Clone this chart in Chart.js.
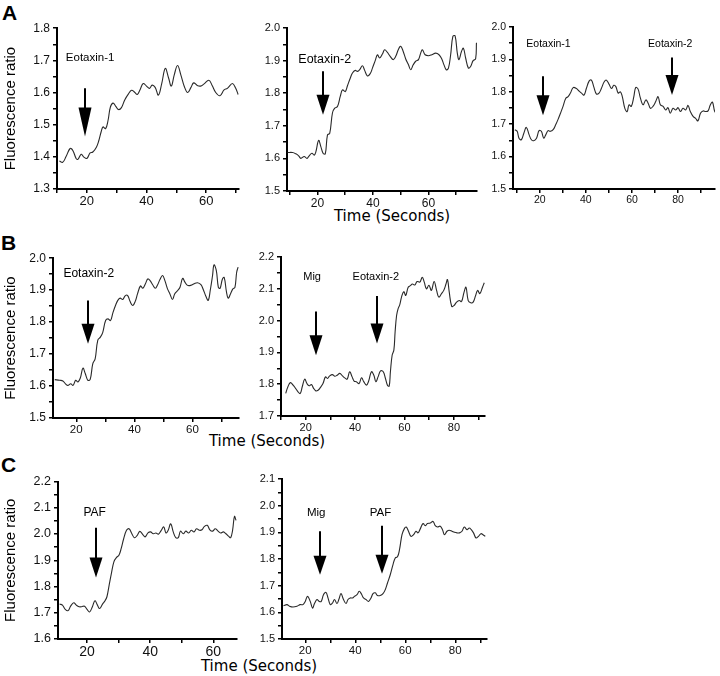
<!DOCTYPE html>
<html><head><meta charset="utf-8">
<script src="https://cdn.jsdelivr.net/npm/chart.js@4.4.1/dist/chart.umd.min.js"></script>
<style>
html,body{margin:0;padding:0;background:#fff;}
body{width:720px;height:676px;position:relative;overflow:hidden;font-family:"Liberation Sans",Arial,sans-serif;}
canvas{position:absolute;}
.lbl{position:absolute;color:#000;white-space:nowrap;line-height:1;}
.letter{font-weight:bold;font-size:21px;}
.time{font-family:"DejaVu Sans",sans-serif;font-size:15px;transform:translate(-50%,-50%);}
</style></head><body>
<div class="lbl letter" style="left:2px;top:2px">A</div>
<div class="lbl letter" style="left:1px;top:232px">B</div>
<div class="lbl letter" style="left:1px;top:454px">C</div>
<div class="lbl time" style="left:392px;top:216px">Time (Seconds)</div>
<div class="lbl time" style="left:267px;top:441px">Time (Seconds)</div>
<div class="lbl time" style="left:259px;top:666px">Time (Seconds)</div>
<canvas id="cA1"></canvas><canvas id="cA2"></canvas><canvas id="cA3"></canvas>
<canvas id="cB1"></canvas><canvas id="cB2"></canvas>
<canvas id="cC1"></canvas><canvas id="cC2"></canvas>
<script>
// ---------------- DATA ----------------
const yAxisTitle = 'Fluorescence ratio';

// A1: Eotaxin-1
const a1Time = [10.8,11.9,13,14.4,15.3,16.4,17,18.1,18.9,20,
  21.1,22,23.2,24,24.8,25.4,26.3,27.1,27.9,28.8,
  29.7,30.6,31.6,32.7,33.9,35,36.1,36.9,37.8,38.9,
  40,41,41.9,42.9,44,45.1,46.3,47.4,48.3,49.3,
  50.4,51.5,52.7,53.8,54.9,55.8,57,58.1,59.2,60.9,
  62,63.2,64.6,66,67.1,68.8,69.9,70.7];
const a1Ratio = [1.387,1.383,1.40,1.426,1.42,1.395,1.392,1.408,1.40,1.395,
  1.412,1.415,1.43,1.45,1.478,1.493,1.488,1.513,1.555,1.567,
  1.557,1.547,1.553,1.577,1.595,1.607,1.60,1.594,1.608,1.628,
  1.62,1.613,1.623,1.616,1.592,1.628,1.675,1.645,1.62,1.655,
  1.684,1.655,1.618,1.60,1.616,1.63,1.622,1.62,1.626,1.638,
  1.622,1.60,1.59,1.608,1.613,1.628,1.613,1.594];
const a1Arrows = [{x:19.55, from:1.613, to:1.463}];
const a1Labels = [{text:'Eotaxin-1', x:21.1, y:1.707}];

// A2: Eotaxin-2
const a2Time = [9.2,11,12.2,13.2,14,15.2,16.2,17,18,18.8,
  19.4,20.4,21.2,22,22.8,23.6,24.4,25.4,26.2,27.2,
  28.2,29,30,30.8,31.8,32.6,33.6,34.4,35.2,36.2,
  37,38,39,39.8,40.8,41.6,42.4,43.4,44.2,45.2,
  46.2,47.3,48.2,49.2,50,50.9,51.8,52.8,53.6,54.5,
  55.4,56.4,57.2,57.8,58.8,60,61.2,62.6,63.8,64.8,
  65.6,66.4,67.2,68,68.8,69.6,70.4,71,71.9,72.6,
  73.4,74.4,75.2,76.1,77,77.3];
const a2Ratio = [1.618,1.618,1.614,1.608,1.60,1.606,1.60,1.608,1.616,1.61,
  1.62,1.655,1.636,1.616,1.614,1.672,1.677,1.74,1.754,1.759,
  1.79,1.81,1.805,1.823,1.846,1.862,1.87,1.867,1.872,1.884,
  1.87,1.853,1.86,1.877,1.90,1.918,1.908,1.92,1.933,1.925,
  1.913,1.903,1.913,1.935,1.944,1.928,1.905,1.887,1.872,1.887,
  1.898,1.903,1.923,1.933,1.918,1.915,1.918,1.923,1.918,1.905,
  1.887,1.872,1.877,1.918,1.974,1.976,1.923,1.903,1.928,1.938,
  1.908,1.877,1.882,1.90,1.905,1.955];
const a2Arrows = [{x:21.8, from:1.867, to:1.734}];
const a2Labels = [{text:'Eotaxin-2', x:22.6, y:1.903}];

// A3: Eotaxin-1 then Eotaxin-2
const a3Time = [9.2,10.2,11,12,13.1,14.2,15.4,16.4,17.4,18.6,
  19.7,20.7,21.7,22.6,23.6,24.6,25.8,26.9,27.9,29,
  30.1,31.3,32.3,33.3,34.5,35.9,37.1,38.1,39.2,40.2,
  41.4,42.4,43.4,44.6,45.7,46.7,47.9,48.9,50.1,51.1,
  52.1,53,54,55,55.8,56.9,57.9,58.7,59.7,60.8,
  61.6,62.6,63.6,64.8,66,67,68,69.1,70.3,71.3,
  72.3,73.5,74.6,75.6,76.6,77.8,79,80,81,82.1,
  83.3,84.3,85.3,86.5,87.6,88.6,89.7,90.8,92,93,
  94,94.9,95.9,96.9];
const a3Ratio = [1.683,1.678,1.657,1.652,1.672,1.69,1.667,1.652,1.649,1.657,
  1.68,1.678,1.657,1.667,1.68,1.678,1.683,1.698,1.714,1.734,
  1.755,1.78,1.785,1.796,1.813,1.81,1.802,1.796,1.79,1.81,
  1.833,1.836,1.816,1.793,1.796,1.81,1.83,1.836,1.823,1.81,
  1.82,1.816,1.796,1.80,1.785,1.749,1.739,1.76,1.755,1.785,
  1.813,1.809,1.782,1.76,1.775,1.765,1.749,1.755,1.77,1.785,
  1.76,1.755,1.744,1.751,1.734,1.749,1.744,1.751,1.739,1.749,
  1.744,1.758,1.739,1.724,1.718,1.71,1.734,1.741,1.739,1.741,
  1.76,1.768,1.739,1.734];
const a3Arrows = [{x:21.4, from:1.848, to:1.728}, {x:77.5, from:1.906, to:1.79}];
const a3Labels = [{text:'Eotaxin-1', x:23.8, y:1.946}, {text:'Eotaxin-2', x:76.6, y:1.946}];

// B1: Eotaxin-2
const b1Time = [12.6,14.3,15.4,16.3,17.1,18.1,18.9,19.8,20.6,21.4,
  22.3,23.1,24,24.8,25.7,26.5,27.4,28.3,29.1,30.1,
  30.9,31.8,32.6,33.5,34.3,35.1,36,36.9,37.7,38.5,
  39.4,40.3,41.1,42.1,42.9,43.8,44.6,45.4,46.3,47.2,
  48,48.8,49.7,50.5,51.4,52.2,53.1,53.9,54.9,55.7,
  56.6,57.4,58.3,59.4,60.6,61.7,62.9,63.7,64.6,65.4,
  66.1,66.9,67.4,68.2,68.9,69.5,70.3,70.9,71.7,72.3,
  73.1,73.9,74.6,75.2,75.7];
const b1Ratio = [1.62,1.618,1.616,1.607,1.602,1.607,1.602,1.618,1.613,1.625,
  1.656,1.639,1.618,1.621,1.67,1.685,1.743,1.753,1.767,1.805,
  1.81,1.805,1.829,1.852,1.868,1.875,1.871,1.883,1.883,1.865,
  1.852,1.865,1.889,1.913,1.906,1.92,1.935,1.93,1.917,1.906,
  1.917,1.933,1.946,1.93,1.904,1.889,1.871,1.889,1.899,1.909,
  1.937,1.925,1.915,1.915,1.92,1.923,1.917,1.902,1.881,1.868,
  1.899,1.946,1.979,1.961,1.909,1.906,1.935,1.94,1.894,1.875,
  1.889,1.904,1.909,1.956,1.972];
const b1Arrows = [{x:24.2, from:1.868, to:1.732}];
const b1Labels = [{text:'Eotaxin-2', x:24.3, y:1.951}];

// B2: Mig then Eotaxin-2
const b2Time = [11.9,12.8,13.8,14.9,15.9,16.9,17.8,18.6,19.6,20.5,
  21.4,22.3,23.2,24.1,25,25.9,27,28,28.8,29.7,
  30.8,31.8,32.7,33.8,34.9,35.8,36.8,37.8,38.8,39.6,
  40.5,41.6,42.6,43.5,44.6,45.5,46.6,47.6,48.4,49.3,
  50.3,51.4,52.3,53.1,53.8,54.3,55,55.7,56.2,56.8,
  57.4,58.1,58.8,59.7,60.5,61.5,62.4,63.2,64.2,65.1,
  66.2,67.2,68,68.9,69.9,70.9,72,73,73.9,75,
  75.9,76.8,77.4,78.1,79.1,80,81.1,82.2,83.1,84.1,
  84.9,85.8,86.8,87.8,88.8,89.6,90.5,91.6,92.3];
const b2Ratio = [1.771,1.792,1.805,1.797,1.787,1.776,1.771,1.792,1.816,1.802,
  1.795,1.799,1.787,1.779,1.781,1.789,1.802,1.823,1.818,1.826,
  1.83,1.825,1.828,1.834,1.826,1.82,1.816,1.839,1.823,1.81,
  1.808,1.802,1.82,1.808,1.797,1.81,1.839,1.828,1.808,1.823,
  1.842,1.839,1.818,1.797,1.794,1.839,1.891,1.907,1.964,2.016,
  2.037,2.05,2.074,2.091,2.079,2.105,2.11,2.115,2.112,2.123,
  2.121,2.136,2.121,2.10,2.111,2.095,2.123,2.095,2.074,2.085,
  2.095,2.115,2.129,2.091,2.045,2.047,2.058,2.063,2.06,2.089,
  2.105,2.063,2.056,2.058,2.079,2.095,2.085,2.105,2.119];
const b2Arrows = [{x:24.3, from:2.029, to:1.891}, {x:48.9, from:2.077, to:1.928}];
const b2Labels = [{text:'Mig', x:22.6, y:2.138}, {text:'Eotaxin-2', x:48.4, y:2.138}];

// C1: PAF
const c1Time = [11.3,12.2,13.1,14,14.8,15.8,16.6,17.5,18.3,19.2,
  20,20.8,21.7,22.5,23.3,24,24.9,25.7,26.3,27,
  27.7,28.5,29.3,30.1,30.8,31.6,32.5,33.3,34.2,35,
  35.9,36.7,37.6,38.4,39.3,40.1,41,41.8,42.6,43.5,
  44.3,45,45.7,46.5,47.3,48.1,48.9,49.6,50.5,51.3,
  52.2,53,53.9,54.7,55.6,56.4,57.2,58.1,58.9,59.8,
  60.6,61.5,62.3,63.2,64,64.9,65.5,66.1,66.7,67.2];
const c1Ratio = [1.733,1.729,1.713,1.708,1.725,1.738,1.729,1.723,1.723,1.725,
  1.713,1.703,1.723,1.746,1.729,1.716,1.733,1.746,1.761,1.805,
  1.849,1.894,1.91,1.919,1.944,1.982,2.014,2.02,2.001,1.986,
  1.995,2.01,1.999,1.989,2.004,2.008,2.001,2.004,1.999,2.014,
  2.027,2.004,2.014,2.039,2.008,1.986,1.986,2.011,2.001,2.011,
  2.004,2.014,2.008,2.02,2.014,2.016,2.029,2.033,2.016,2.011,
  2.02,2.011,2.004,2.008,2.001,1.991,1.986,2.014,2.067,2.052];
const c1Arrows = [{x:22.75, from:2.024, to:1.834}];
const c1Labels = [{text:'PAF', x:22.4, y:2.081}];

// C2: Mig then PAF
const c2Time = [11.3,12.7,13.7,15.1,16.7,18,19.1,20,20.9,22,
  22.9,23.7,24.7,25.6,26.4,27.3,28.3,29.1,30,30.9,
  31.7,32.7,33.5,34.3,35.3,36.3,37.1,38,38.9,39.7,
  40.7,41.6,42.4,43.3,44.3,45.3,46.3,47.1,48,48.9,
  50,51.1,52,52.9,54,55.1,56,56.9,57.7,58.7,
  59.6,60.4,61.3,62.3,63.3,64.3,65.1,66,67.1,68,
  68.9,70,71.1,72,72.9,74,74.9,75.7,76.7,77.6,
  78.7,79.7,80.7,81.7,82.7,83.6,84.7,85.6,86.4,87.3,
  88.3,89.3,90.3,91.1,92];
const c2Ratio = [1.625,1.629,1.623,1.62,1.623,1.629,1.629,1.641,1.66,1.641,
  1.616,1.633,1.648,1.641,1.641,1.666,1.675,1.654,1.629,1.635,
  1.648,1.633,1.65,1.67,1.648,1.633,1.648,1.654,1.654,1.66,
  1.666,1.679,1.67,1.654,1.648,1.641,1.654,1.67,1.673,1.663,
  1.663,1.67,1.685,1.71,1.741,1.779,1.804,1.808,1.835,1.891,
  1.913,1.92,1.904,1.885,1.891,1.904,1.898,1.913,1.933,1.925,
  1.933,1.935,1.941,1.925,1.92,1.923,1.91,1.891,1.904,1.908,
  1.904,1.90,1.898,1.898,1.904,1.92,1.91,1.916,1.91,1.898,
  1.879,1.885,1.895,1.891,1.885];
const c2Arrows = [{x:25.7, from:1.904, to:1.741}, {x:50.7, from:1.925, to:1.745}];
const c2Labels = [{text:'Mig', x:24.4, y:1.975}, {text:'PAF', x:50.1, y:1.975}];

// ---------------- LAYOUT / STYLE ----------------
const FONT = '"Liberation Sans", Arial, sans-serif';
Chart.defaults.font.family = FONT;
Chart.defaults.color = '#111';

const marksPlugin = {
  id: 'marks',
  afterDatasetsDraw(chart, args, opts) {
    const ctx = chart.ctx, xs = chart.scales.x, ys = chart.scales.y;
    ctx.save();
    ctx.fillStyle = '#000'; ctx.strokeStyle = '#000';
    (opts.arrows || []).forEach(a => {
      const px = Math.round(xs.getPixelForValue(a.x));
      const top = ys.getPixelForValue(a.from);
      const tip = ys.getPixelForValue(a.to);
      const hl = opts.headLen, hw = opts.headWidth;
      ctx.lineWidth = 2;
      ctx.beginPath(); ctx.moveTo(px, top); ctx.lineTo(px, tip - hl + 2); ctx.stroke();
      ctx.beginPath();
      ctx.moveTo(px - hw / 2, tip - hl); ctx.lineTo(px + hw / 2, tip - hl); ctx.lineTo(px, tip);
      ctx.closePath(); ctx.fill();
    });
    ctx.font = opts.labelSize + 'px ' + FONT;
    ctx.textAlign = 'center'; ctx.textBaseline = 'middle';
    (opts.labels || []).forEach(l => {
      ctx.fillText(l.text, xs.getPixelForValue(l.x), ys.getPixelForValue(l.y));
    });
    ctx.restore();
  }
};

const PAD_T = 10, PAD_R = 8, XH = 26;

function panel(p) {
  const cv = document.getElementById(p.id);
  const W = (p.r - p.l) + p.yw + PAD_R;
  const H = (p.b - p.t) + PAD_T + XH;
  cv.style.left = (p.l - p.yw) + 'px';
  cv.style.top = (p.t - PAD_T) + 'px';
  cv.width = W; cv.height = H;
  cv.style.width = W + 'px'; cv.style.height = H + 'px';
  const pts = p.time.map((t, i) => ({x: t, y: p.ratio[i]}));
  new Chart(cv, {
    type: 'line',
    data: { datasets: [{ data: pts, borderColor: '#2a2a2a', borderWidth: 1.1,
      pointRadius: 0, tension: 0.4, fill: false }] },
    options: {
      responsive: false, animation: false, devicePixelRatio: 1,
      layout: { padding: { top: PAD_T, right: PAD_R, left: 0, bottom: 0 } },
      plugins: { legend: { display: false }, tooltip: { enabled: false },
        marks: { arrows: p.arrows, labels: p.labels, headLen: p.headLen, headWidth: 13, labelSize: p.labelSize } },
      scales: {
        x: { type: 'linear', min: p.xmin, max: p.xmax,
          afterFit: s => { s.height = XH; },
          border: { display: true, color: '#000', width: 2 },
          grid: { display: true, drawOnChartArea: false, drawTicks: true, tickLength: 4, color: '#000', lineWidth: 1.5 },
          ticks: { stepSize: 10, includeBounds: false, autoSkip: false, maxRotation: 0, padding: 1,
            color: '#111', font: { size: p.xFont },
            callback: v => (Math.round(v) % 20 === 0 ? String(Math.round(v)) : '') } },
        y: { type: 'linear', min: p.ymin, max: p.ymax,
          afterFit: s => { s.width = p.yw; },
          border: { display: true, color: '#000', width: 2 },
          grid: { display: true, drawOnChartArea: false, drawTicks: true, tickLength: 4, color: '#000', lineWidth: 1.5 },
          title: { display: !!p.title, text: yAxisTitle, color: '#000',
            font: { size: 15, family: FONT }, padding: { top: 2, bottom: 0 } },
          ticks: { stepSize: 0.05, includeBounds: false, autoSkip: false, padding: 3,
            color: '#111', font: { size: p.yFont },
            callback: v => { const r = Math.round(v * 10); return Math.abs(v * 10 - r) < 1e-6 ? (r / 10).toFixed(1) : ''; } } }
      }
    },
    plugins: [marksPlugin]
  });
}

panel({id:'cA1', l:57, t:28, r:239, b:189, yw:57, title:true, xmin:10, xmax:71, ymin:1.3, ymax:1.8,
  time:a1Time, ratio:a1Ratio, arrows:a1Arrows, labels:a1Labels, headLen:29, labelSize:11.5, xFont:13, yFont:12});
panel({id:'cA2', l:287, t:28, r:477, b:191, yw:40, title:false, xmin:9, xmax:77.5, ymin:1.5, ymax:2.0,
  time:a2Time, ratio:a2Ratio, arrows:a2Arrows, labels:a2Labels, headLen:20, labelSize:12.5, xFont:12, yFont:11});
panel({id:'cA3', l:513, t:27, r:715, b:189, yw:40, title:false, xmin:8.4, xmax:96, ymin:1.5, ymax:2.0,
  time:a3Time, ratio:a3Ratio, arrows:a3Arrows, labels:a3Labels, headLen:20, labelSize:10.5, xFont:10.5, yFont:10.5});
panel({id:'cB1', l:53, t:258, r:239, b:418, yw:53, title:true, xmin:12, xmax:76, ymin:1.5, ymax:2.0,
  time:b1Time, ratio:b1Ratio, arrows:b1Arrows, labels:b1Labels, headLen:20, labelSize:12, xFont:11.5, yFont:12});
panel({id:'cB2', l:281, t:257, r:485, b:416, yw:40, title:false, xmin:10, xmax:92.6, ymin:1.7, ymax:2.2,
  time:b2Time, ratio:b2Ratio, arrows:b2Arrows, labels:b2Labels, headLen:20, labelSize:11, xFont:11, yFont:11});
panel({id:'cC1', l:58, t:481, r:237, b:639, yw:58, title:true, xmin:10.8, xmax:67.5, ymin:1.6, ymax:2.2,
  time:c1Time, ratio:c1Ratio, arrows:c1Arrows, labels:c1Labels, headLen:20, labelSize:12, xFont:14, yFont:12.5});
panel({id:'cC2', l:282, t:479, r:487, b:639, yw:40, title:false, xmin:10.7, xmax:92.7, ymin:1.5, ymax:2.1,
  time:c2Time, ratio:c2Ratio, arrows:c2Arrows, labels:c2Labels, headLen:19, labelSize:11.5, xFont:11.5, yFont:11});
</script>
</body></html>
